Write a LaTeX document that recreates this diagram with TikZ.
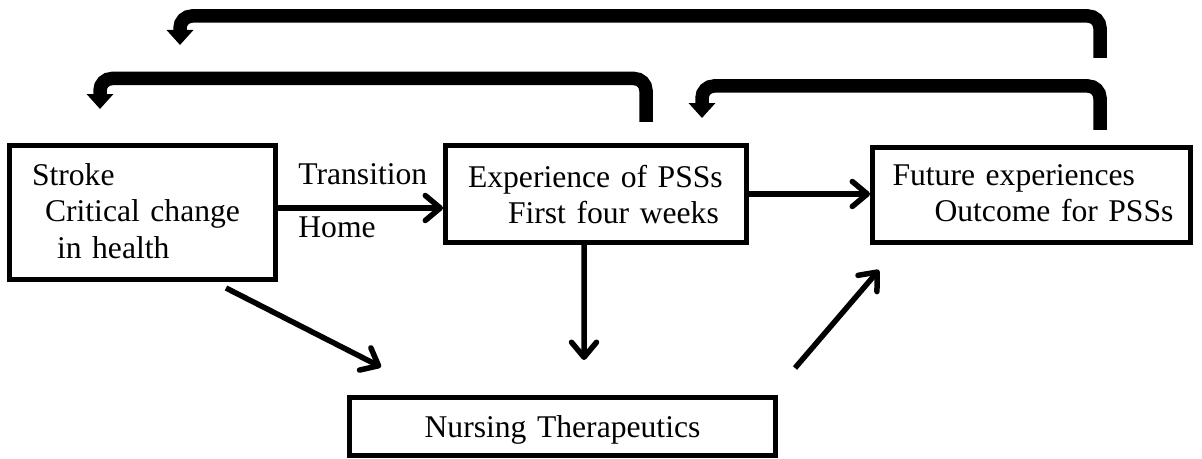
\documentclass[tikz,border=0pt]{standalone}
\usepackage{fontspec}
\setmainfont{Liberation Serif}
\usetikzlibrary{arrows.meta}

\tikzset{
  txt/.style={font=\fontsize{18}{21}\selectfont},
  box/.style={txt, rectangle, draw, line width=0.1cm, align=left, inner xsep=0.45cm, inner ysep=0pt, text height=0pt},
  conn/.style={line width=0.11cm, -{Straight Barb[length=0.3cm,width=0.5cm,round]}},
  fback/.style={line width=0.27cm, rounded corners=0.24cm, -{Triangle[length=0.3cm,width=0.52cm]}}
}

\begin{document}
\begin{tikzpicture}[x=0.02cm, y=-0.02cm]
        \useasboundingbox (0,0) rectangle (1202,459);

        \node[box, text width=4.42cm, text depth=1.1cm, minimum height=2.68cm] (stroke) at (142.5,212.5)
            {Stroke\\\hspace*{0.26cm}Critical change\\\hspace*{0.5cm}in health};
        \node[box, text width=5.12cm, text depth=0.28cm, minimum height=1.94cm] (exper) at (596,194)
            {Experience of PSSs\\\hspace*{0.8cm}First four weeks};
        \node[box, inner xsep=0.4cm, text width=5.56cm, text depth=0.4cm, minimum height=1.9cm] (future) at (1031.5,195)
            {Future experiences\\\hspace*{0.84cm}\mbox{Outcome for PSSs}};
        \node[box, align=center, text width=7.62cm, text height=0.42cm, text depth=0pt, minimum height=1.16cm] (nurse) at (562.5,426.5)
            {Nursing Therapeutics};

        \node[txt, anchor=base west, inner sep=0pt] (trans) at (298,185) {Transition};
        \node[txt, anchor=base west, inner sep=0pt] (home) at (298,237) {Home};

        \coordinate (tr) at ([yshift=0.09cm]stroke.east);
        \draw[conn] (tr) -- (tr -| exper.west);
        \draw[conn] (exper.east) -- (exper.east -| future.west);

        \coordinate (dn) at (584,360);
        \draw[conn] ([xshift=-0.24cm]exper.south) -- (dn);
        \coordinate (d1s) at (226,288);
        \coordinate (d1e) at (381,367);
        \draw[conn] (d1s) -- (d1e);
        \coordinate (d2s) at (795,368);
        \coordinate (d2e) at (879,270);
        \draw[conn] (d2s) -- (d2e);

        \coordinate (fa) at (1100,58);
        \coordinate (fa-end) at (180,45);
        \draw[fback] (fa) -- ++(0,-42) -| (fa-end);
        \coordinate (fb) at (646,122);
        \coordinate (fb-end) at (100,109);
        \draw[fback] (fb) -- ++(0,-43.5) -| (fb-end);
        \coordinate (fc) at (1100,130);
        \coordinate (fc-end) at (702,118);
        \draw[fback] (fc) -- ++(0,-44) -| (fc-end);
\end{tikzpicture}
\end{document}
